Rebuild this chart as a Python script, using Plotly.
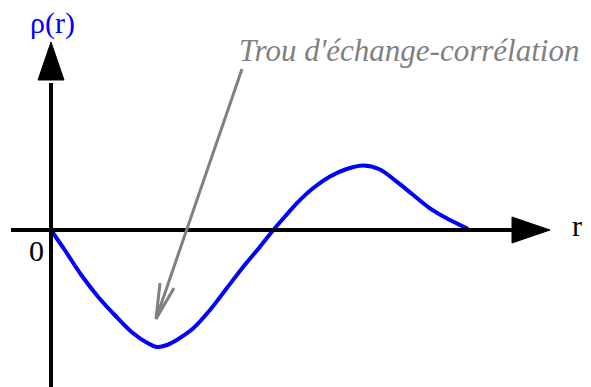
import plotly.graph_objects as go

# courbe (r, rho)
r_vals = [0, 0.137, 0.303, 0.47, 0.637, 0.803, 0.97, 1.06, 1.16, 1.257, 1.423, 1.59, 1.757,
          1.923, 2.09, 2.223, 2.34, 2.457, 2.623, 2.79, 2.957, 3.123, 3.29, 3.457, 3.623,
          3.79, 3.957, 4.173]
rho_vals = [0, -0.20, -0.45, -0.667, -0.85, -1.017, -1.133, -1.17, -1.15, -1.10, -0.983, -0.80,
            -0.583, -0.367, -0.167, 0, 0.135, 0.267, 0.42, 0.535, 0.61, 0.645, 0.605, 0.483,
            0.35, 0.217, 0.117, 0.01]

label_y = "ρ(r)"
label_x = "r"
label_origin = "0"
label_hole = "Trou d'échange-corrélation"

serif = "Liberation Serif, Times New Roman, serif"

fig = go.Figure()
fig.add_trace(go.Scatter(x=r_vals, y=rho_vals, mode="lines",
                         line=dict(color="#0000ff", width=4, shape="spline", smoothing=0.9),
                         hoverinfo="skip", showlegend=False))

black = "#000000"
grey = "#808080"
shapes = [
    # axe r
    dict(type="line", x0=-0.40, y0=0, x1=4.64, y1=0, line=dict(color=black, width=4)),
    dict(type="path", path="M 4.61,0.13 L 4.99,0 L 4.61,-0.13 Z",
         fillcolor=black, line=dict(color=black, width=1)),
    # axe rho
    dict(type="line", x0=0, y0=-1.70, x1=0, y1=1.47, line=dict(color=black, width=4)),
    dict(type="path", path="M -0.13,1.50 L 0.0,1.88 L 0.13,1.50 Z",
         fillcolor=black, line=dict(color=black, width=1)),
    # flèche grise
    dict(type="path", path="M 1.91,1.61 L 1.05,-0.89 M 1.09,-0.53 L 1.05,-0.89 L 1.23,-0.58",
         line=dict(color=grey, width=3)),
]

annotations = [
    dict(x=0.015, y=2.07, text=label_y, showarrow=False,
         font=dict(family=serif, size=30, color="#0000ff")),
    dict(x=-0.145, y=-0.20, text=label_origin, showarrow=False,
         font=dict(family=serif, size=30, color=black)),
    dict(x=5.26, y=0.05, text=label_x, showarrow=False,
         font=dict(family=serif, size=30, color=black)),
    dict(x=1.86, y=1.80, text="<i>" + label_hole + "</i>", showarrow=False, xanchor="left",
         font=dict(family=serif, size=31, color=grey)),
]

fig.update_layout(
    width=591, height=387,
    margin=dict(l=0, r=0, t=0, b=0),
    paper_bgcolor="white", plot_bgcolor="white",
    xaxis=dict(range=[-0.51, 5.40], visible=False, fixedrange=True),
    yaxis=dict(range=[-1.57, 2.30], visible=False, fixedrange=True),
    shapes=shapes, annotations=annotations,
)

# pas de marge autour du graphique dans la page, pas de barre d'outils
fig.write_html("out.html", config={"displayModeBar": False},
               post_script="document.body.style.margin = '0';")
